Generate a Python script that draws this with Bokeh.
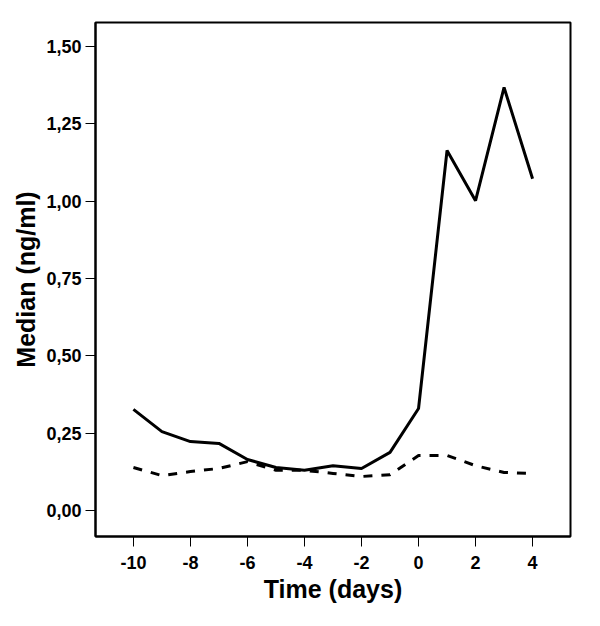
from bokeh.plotting import figure
from bokeh.models import Range1d, FixedTicker, CustomJSTickFormatter
from bokeh.embed import file_html
from bokeh.resources import INLINE

days = [-10, -9, -8, -7, -6, -5, -4, -3, -2, -1, 0, 1, 2, 3, 4]
median_solid = [0.327, 0.255, 0.223, 0.217, 0.165, 0.139, 0.130, 0.145, 0.136, 0.188, 0.330, 1.164, 1.002, 1.368, 1.073]
median_dashed = [0.139, 0.113, 0.126, 0.136, 0.158, 0.130, 0.130, 0.120, 0.110, 0.116, 0.178, 0.178, 0.145, 0.123, 0.120]
x_ticks = [-10, -8, -6, -4, -2, 0, 2, 4]
y_ticks = [0.0, 0.25, 0.5, 0.75, 1.0, 1.25, 1.5]

p = figure(frame_width=475, frame_height=514, output_backend="svg", toolbar_location=None,
           x_range=Range1d(-11.33, 5.33), y_range=Range1d(-0.084, 1.578),
           min_border_left=95, min_border_top=22, min_border_right=20, min_border_bottom=70)

p.line(days, median_solid, line_color="black", line_width=3)
p.line(days, median_dashed, line_color="black", line_width=3, line_dash="9 9")

p.xgrid.visible = False
p.ygrid.visible = False
p.outline_line_color = "black"
p.outline_line_width = 2
p.outline_line_alpha = 1

for ax in (p.xaxis[0], p.yaxis[0]):
    ax.axis_line_color = "black"
    ax.axis_line_width = 2
    ax.major_tick_in = 0
    ax.major_tick_out = 10
    ax.major_tick_line_color = "black"
    ax.major_tick_line_width = 1
    ax.minor_tick_line_color = None
    ax.major_label_text_font = "Liberation Sans"
    ax.major_label_text_font_style = "bold"
    ax.major_label_text_font_size = "18px"
    ax.major_label_text_color = "black"
    ax.axis_label_text_font = "Liberation Sans"
    ax.axis_label_text_font_style = "bold"
    ax.axis_label_text_font_size = "25px"
    ax.axis_label_text_color = "black"

p.xaxis.ticker = FixedTicker(ticks=x_ticks)
p.yaxis.ticker = FixedTicker(ticks=y_ticks)
p.xaxis.formatter = CustomJSTickFormatter(code="return String(tick);")
p.yaxis.formatter = CustomJSTickFormatter(code="return tick.toFixed(2).replace('.', ',');")
p.xaxis.major_label_standoff = 9
p.yaxis.major_label_standoff = 4
p.xaxis.axis_label = "Time (days)"
p.yaxis.axis_label = "Median (ng/ml)"
p.xaxis.axis_label_standoff = 3
p.yaxis.axis_label_standoff = 3

open("out.html", "w").write(file_html(p, INLINE))
